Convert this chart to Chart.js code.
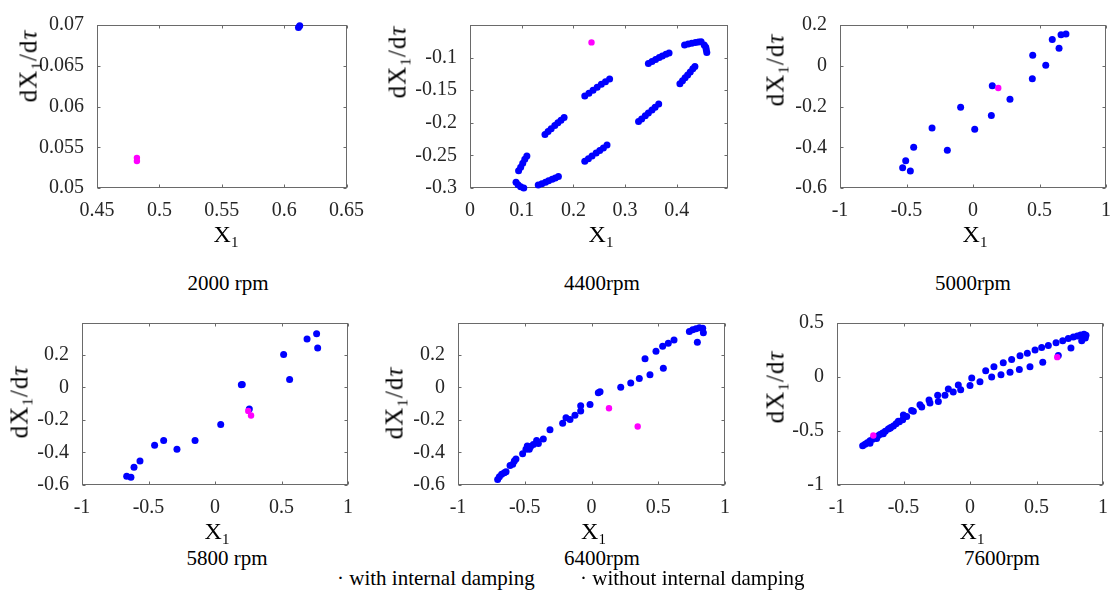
<!DOCTYPE html>
<html>
<head>
<meta charset="utf-8">
<script src="https://cdn.jsdelivr.net/npm/chart.js@4.4.1/dist/chart.umd.min.js"></script>
<style>
  body { margin: 0; background: #fff; }
  #fig { position: relative; width: 1111px; height: 598px; overflow: hidden; font-family: "Liberation Serif", "Times New Roman", serif; color: #000; }
  #fig canvas { position: absolute; }
  .title, .xlab, .ylab, .legend { position: absolute; white-space: nowrap; line-height: 1; }
  .title { font-size: 21px; transform: translate(-50%, -50%); }
  .xlab { font-size: 24px; transform: translate(-50%, -50%); }
  .ylab { font-size: 25px; letter-spacing: 1px; transform: translate(-50%, -50%) rotate(-90deg); }
  .legend { font-size: 21px; transform: translateY(-50%); }
  .sub { font-size: 0.62em; position: relative; top: 0.32em; }
</style>
</head>
<body>
<div id="fig"></div>
<script>
// ---- data ----
// 2000 rpm
const ticks2000X = [0.45, 0.5, 0.55, 0.6, 0.65];
const ticks2000Y = [0.05, 0.055, 0.06, 0.065, 0.07];
const range2000X = [0.45, 0.65];
const range2000Y = [0.05, 0.07];
const blue2000X = [0.6115, 0.6125];
const blue2000Y = [0.0697, 0.0699];
const pink2000X = [0.482, 0.482];
const pink2000Y = [0.0533, 0.0537];

// 4400 rpm
const ticks4400X = [0, 0.1, 0.2, 0.3, 0.4];
const ticks4400Y = [-0.3, -0.25, -0.2, -0.15, -0.1];
const range4400X = [0, 0.499];
const range4400Y = [-0.3, -0.05];
const blue4400X = [
  0.415, 0.422, 0.429, 0.436, 0.442, 0.447,
  0.453, 0.456, 0.457, 0.458,
  0.345, 0.352, 0.359, 0.366, 0.372, 0.379, 0.385,
  0.222, 0.230, 0.238, 0.246, 0.254, 0.262, 0.270,
  0.145, 0.151, 0.157, 0.164, 0.170, 0.176, 0.182,
  0.094, 0.098, 0.102, 0.106, 0.110,
  0.089, 0.093, 0.098, 0.104,
  0.132, 0.139, 0.146, 0.152, 0.159, 0.165, 0.171,
  0.222, 0.229, 0.236, 0.244, 0.251, 0.258, 0.265,
  0.326, 0.332, 0.339, 0.345, 0.352, 0.358, 0.365,
  0.406, 0.411, 0.416, 0.421, 0.426, 0.431, 0.435
];
const blue4400Y = [
  -0.0805, -0.079, -0.0778, -0.0768, -0.076, -0.0758,
  -0.0805, -0.084, -0.088, -0.092,
  -0.109, -0.106, -0.103, -0.100, -0.0975, -0.095, -0.093,
  -0.159, -0.1545, -0.150, -0.1455, -0.141, -0.137, -0.133,
  -0.218, -0.2135, -0.209, -0.204, -0.200, -0.196, -0.192,
  -0.2735, -0.268, -0.262, -0.256, -0.251,
  -0.291, -0.295, -0.298, -0.300,
  -0.2955, -0.2935, -0.291, -0.289, -0.2865, -0.2845, -0.2825,
  -0.259, -0.255, -0.251, -0.2465, -0.2425, -0.2385, -0.234,
  -0.198, -0.194, -0.189, -0.185, -0.1805, -0.176, -0.171,
  -0.140, -0.1355, -0.131, -0.1265, -0.122, -0.117, -0.1135
];
const pink4400X = [0.235];
const pink4400Y = [-0.0767];

// 5000 rpm
const ticks5000X = [-1, -0.5, 0, 0.5, 1];
const ticks5000Y = [-0.6, -0.4, -0.2, 0, 0.2];
const range5000X = [-1, 1];
const range5000Y = [-0.6, 0.2];
const blue5000X = [-0.529, -0.506, -0.471, -0.446, -0.308, -0.193, -0.093, 0.013, 0.138, 0.145, 0.278, 0.446, 0.449, 0.547, 0.596, 0.647, 0.662, 0.699];
const blue5000Y = [-0.501, -0.466, -0.517, -0.400, -0.306, -0.415, -0.204, -0.312, -0.244, -0.098, -0.165, -0.064, 0.051, 0.002, 0.129, 0.086, 0.152, 0.156];
const pink5000X = [0.19];
const pink5000Y = [-0.109];

// 5800 rpm
const ticks5800X = [-1, -0.5, 0, 0.5, 1];
const ticks5800Y = [-0.6, -0.4, -0.2, 0, 0.2];
const range5800X = [-1, 1];
const range5800Y = [-0.6, 0.395];
const blue5800X = [-0.664, -0.632, -0.609, -0.564, -0.454, -0.386, -0.286, -0.150, 0.043, 0.198, 0.205, 0.258, 0.516, 0.561, 0.692, 0.764, 0.772];
const blue5800Y = [-0.547, -0.553, -0.491, -0.453, -0.356, -0.326, -0.380, -0.326, -0.229, 0.015, 0.018, -0.133, 0.202, 0.048, 0.297, 0.329, 0.241];
const pink5800X = [0.25, 0.271];
const pink5800Y = [-0.145, -0.173];

// 6400 rpm
const ticks6400X = [-1, -0.5, 0, 0.5, 1];
const ticks6400Y = [-0.6, -0.4, -0.2, 0, 0.2];
const range6400X = [-1, 1];
const range6400Y = [-0.6, 0.395];
const blue6400X = [
  -0.703, -0.69, -0.673, -0.653, -0.64, -0.61, -0.59, -0.578, -0.566, -0.516,
  -0.491, -0.481, -0.466, -0.456, -0.436, -0.411, -0.398, -0.361, -0.311, -0.216,
  -0.191, -0.161, -0.124, -0.081, -0.081, -0.011, 0.051, 0.064, 0.219, 0.294,
  0.358, 0.438, 0.538, 0.401, 0.483, 0.533, 0.575, 0.618, 0.733, 0.758,
  0.783, 0.808, 0.833, 0.838, 0.793
];
const blue6400Y = [
  -0.566, -0.549, -0.534, -0.524, -0.518, -0.480, -0.472, -0.453, -0.441, -0.408,
  -0.380, -0.360, -0.380, -0.364, -0.351, -0.326, -0.345, -0.318, -0.260, -0.221,
  -0.187, -0.197, -0.172, -0.145, -0.114, -0.106, -0.033, -0.027, 0.000, 0.027,
  0.054, 0.077, 0.117, 0.175, 0.221, 0.252, 0.270, 0.291, 0.343, 0.353,
  0.360, 0.366, 0.362, 0.335, 0.276
];
const pink6400X = [0.131, 0.346];
const pink6400Y = [-0.129, -0.241];

// 7600 rpm
const ticks7600X = [-1, -0.5, 0, 0.5, 1];
const ticks7600Y = [-1, -0.5, 0, 0.5];
const range7600X = [-1, 1];
const range7600Y = [-1, 0.5];
const blue7600X = [
  -0.807, -0.789, -0.772, -0.752, -0.732, -0.714, -0.694, -0.677, -0.657, -0.637,
  -0.614, -0.596, -0.576, -0.556, -0.531, -0.506, -0.501, -0.439, -0.376, -0.308,
  -0.243, -0.163, -0.088, 0.013, 0.118, 0.180, 0.250, 0.313, 0.376, 0.431,
  0.489, 0.539, 0.589, 0.647, 0.697, 0.739, 0.777, 0.807, 0.832, 0.857,
  0.872, 0.867,
  0.840, 0.759, 0.664, 0.547, 0.451, 0.371, 0.301, 0.233, 0.163, 0.075,
  0.000, -0.070, -0.126, -0.188, -0.238, -0.301, -0.363, -0.426, -0.476, -0.539,
  -0.602, -0.652, -0.702, -0.752
];
const blue7600Y = [
  -0.637, -0.623, -0.608, -0.591, -0.576, -0.561, -0.547, -0.532, -0.518, -0.503,
  -0.482, -0.468, -0.453, -0.433, -0.415, -0.395, -0.351, -0.310, -0.257, -0.213,
  -0.170, -0.111, -0.073, -0.009, 0.058, 0.094, 0.132, 0.161, 0.196, 0.219,
  0.249, 0.272, 0.292, 0.316, 0.336, 0.357, 0.371, 0.380, 0.389, 0.395,
  0.386, 0.360,
  0.336, 0.269, 0.199, 0.137, 0.094, 0.070, 0.044, 0.020, 0.000, -0.044,
  -0.079, -0.117, -0.140, -0.170, -0.228, -0.240, -0.278, -0.316, -0.366, -0.410,
  -0.474, -0.526, -0.570, -0.614
];
const pink7600X = [-0.727, 0.656];
const pink7600Y = [-0.541, 0.184];

// ---- layout ----
const PAD_L = 90, PAD_T = 15, PAD_R = 24, PAD_B = 40;
const BLUE = '#0000ff', PINK = '#ff00ff';
const SERIF = '"Liberation Serif", "Times New Roman", serif';

const panels = [
  { box: [97, 15, 351, 188], xr: range2000X, yr: range2000Y, xt: ticks2000X, yt: ticks2000Y,
    blue: [blue2000X, blue2000Y], pink: [pink2000X, pink2000Y],
    title: '2000 rpm', titlePos: [228, 283], ylabPos: [28, 66] },
  { box: [470, 15, 728, 188], xr: range4400X, yr: range4400Y, xt: ticks4400X, yt: ticks4400Y,
    blue: [blue4400X, blue4400Y], pink: [pink4400X, pink4400Y],
    title: '4400rpm', titlePos: [602, 283], ylabPos: [397, 62] },
  { box: [840, 15, 1106, 188], xr: range5000X, yr: range5000Y, xt: ticks5000X, yt: ticks5000Y,
    blue: [blue5000X, blue5000Y], pink: [pink5000X, pink5000Y],
    title: '5000rpm', titlePos: [973, 283], ylabPos: [775, 70] },
  { box: [82, 313, 348, 485], xr: range5800X, yr: range5800Y, xt: ticks5800X, yt: ticks5800Y,
    blue: [blue5800X, blue5800Y], pink: [pink5800X, pink5800Y],
    title: '5800 rpm', titlePos: [227, 558], ylabPos: [19, 402] },
  { box: [458, 313, 725, 485], xr: range6400X, yr: range6400Y, xt: ticks6400X, yt: ticks6400Y,
    blue: [blue6400X, blue6400Y], pink: [pink6400X, pink6400Y],
    title: '6400rpm', titlePos: [602, 558], ylabPos: [394, 403] },
  { box: [837, 313, 1103, 485], xr: range7600X, yr: range7600Y, xt: ticks7600X, yt: ticks7600Y,
    blue: [blue7600X, blue7600Y], pink: [pink7600X, pink7600Y],
    title: '7600rpm', titlePos: [1002, 558], ylabPos: [775, 387] }
];

const fmt = v => String(parseFloat(Number(v).toFixed(4)));
const toPoints = (xs, ys) => xs.map((x, i) => ({ x: x, y: ys[i] }));

// box round the plot area with inward tick marks on all four sides
const boxPlugin = {
  id: 'matlabBox',
  beforeDatasetsDraw(chart) {
    const { ctx, chartArea: a, scales } = chart;
    const L = Math.round(a.left) + 0.5, R = Math.round(a.right) - 0.5;
    const T = Math.round(a.top) + 0.5, B = Math.round(a.bottom) - 0.5;
    ctx.save();
    ctx.strokeStyle = '#6a6a6a';
    ctx.lineWidth = 1;
    ctx.strokeRect(L, T, R - L, B - T);
    ctx.beginPath();
    scales.x.ticks.forEach(t => {
      const px = Math.round(scales.x.getPixelForValue(t.value)) + 0.5;
      ctx.moveTo(px, B); ctx.lineTo(px, B - 3);
      ctx.moveTo(px, T); ctx.lineTo(px, T + 3);
    });
    scales.y.ticks.forEach(t => {
      const py = Math.round(scales.y.getPixelForValue(t.value)) + 0.5;
      ctx.moveTo(L, py); ctx.lineTo(L + 3, py);
      ctx.moveTo(R, py); ctx.lineTo(R - 3, py);
    });
    ctx.stroke();
    ctx.restore();
  }
};

Chart.defaults.font.family = SERIF;
const fig = document.getElementById('fig');
const tickFont = { family: SERIF, size: 20 };

panels.forEach(p => {
  const [l, t, r, b] = p.box;
  const canvas = document.createElement('canvas');
  canvas.width = (r - l) + PAD_L + PAD_R;
  canvas.height = (b - t) + PAD_T + PAD_B;
  canvas.style.left = (l - PAD_L) + 'px';
  canvas.style.top = (t - PAD_T) + 'px';
  fig.appendChild(canvas);

  new Chart(canvas, {
    type: 'scatter',
    data: {
      datasets: [
        { label: 'magenta', data: toPoints(p.pink[0], p.pink[1]), pointBackgroundColor: PINK,
          pointBorderWidth: 0, pointRadius: 3.2, clip: false },
        { label: 'blue', data: toPoints(p.blue[0], p.blue[1]), pointBackgroundColor: BLUE,
          pointBorderWidth: 0, pointRadius: 3.5, clip: false }
      ]
    },
    options: {
      responsive: false,
      animation: false,
      devicePixelRatio: 1,
      layout: { padding: { left: 0, top: PAD_T, right: PAD_R, bottom: 0 }, autoPadding: false },
      plugins: { legend: { display: false }, tooltip: { enabled: false } },
      scales: {
        x: {
          type: 'linear', min: p.xr[0], max: p.xr[1],
          afterBuildTicks: s => { s.ticks = p.xt.map(v => ({ value: v })); },
          afterFit: s => { s.height = PAD_B; },
          grid: { display: false, drawTicks: false },
          border: { display: false },
          ticks: { font: tickFont, color: '#262626', padding: 11, maxRotation: 0, autoSkip: false, callback: v => fmt(v) }
        },
        y: {
          type: 'linear', min: p.yr[0], max: p.yr[1],
          afterBuildTicks: s => { s.ticks = p.yt.map(v => ({ value: v })); },
          afterFit: s => { s.width = PAD_L; },
          grid: { display: false, drawTicks: false },
          border: { display: false },
          ticks: { font: tickFont, color: '#262626', padding: 13, autoSkip: false, callback: v => fmt(v) }
        }
      }
    },
    plugins: [boxPlugin]
  });

  const title = document.createElement('div');
  title.className = 'title';
  title.textContent = p.title;
  title.style.left = p.titlePos[0] + 'px';
  title.style.top = p.titlePos[1] + 'px';
  fig.appendChild(title);

  const xlab = document.createElement('div');
  xlab.className = 'xlab';
  xlab.innerHTML = 'X<span class="sub">1</span>';
  xlab.style.left = ((l + r) / 2 + 2) + 'px';
  xlab.style.top = (b + 46) + 'px';
  fig.appendChild(xlab);

  const ylab = document.createElement('div');
  ylab.className = 'ylab';
  ylab.innerHTML = 'dX<span class="sub">1</span>/d<i>τ</i>';
  ylab.style.left = p.ylabPos[0] + 'px';
  ylab.style.top = p.ylabPos[1] + 'px';
  fig.appendChild(ylab);
});

const legendItems = [['· with internal damping', 337], ['· without internal damping', 580]];
legendItems.forEach(([text, x]) => {
  const d = document.createElement('div');
  d.className = 'legend';
  d.textContent = text;
  d.style.left = x + 'px';
  d.style.top = '578px';
  fig.appendChild(d);
});
</script>
</body>
</html>
